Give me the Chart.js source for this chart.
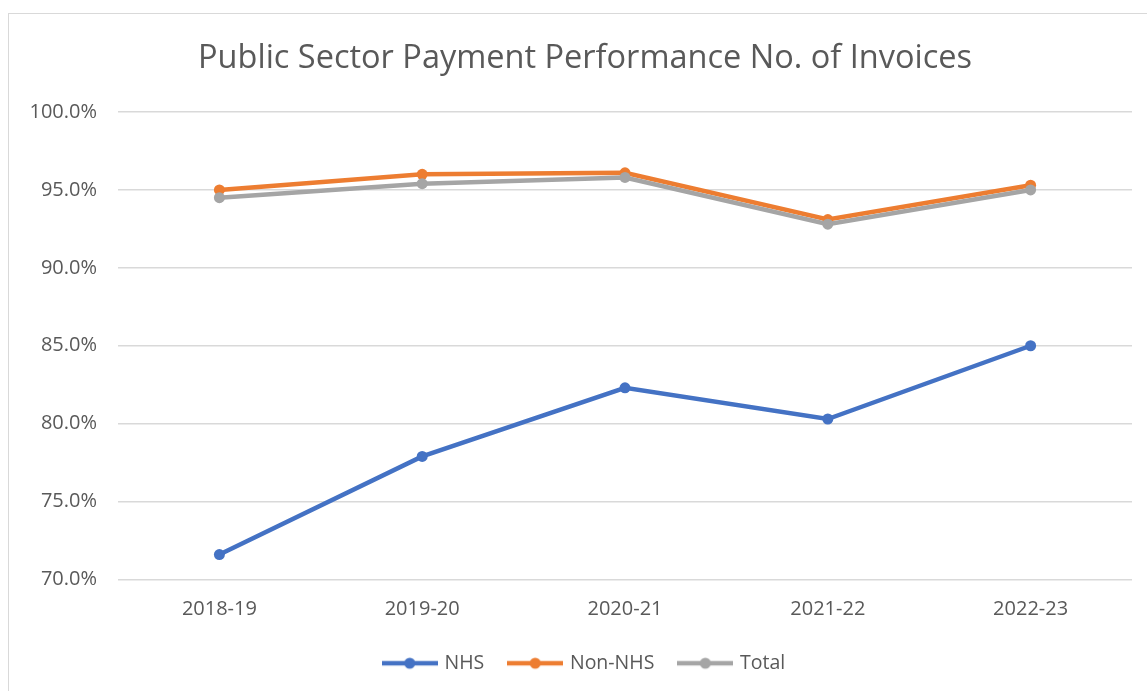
<!DOCTYPE html>
<html>
<head>
<meta charset="utf-8">
<script src="https://cdn.jsdelivr.net/npm/chart.js@4.4.1/dist/chart.umd.min.js"></script>
<style>
  body { margin: 0; background: #ffffff; }
  #wrap {
    position: absolute;
    left: 8px;
    top: 13px;
    width: 1152px;
    height: 677px;
    border: 1px solid #d9d9d9;
  }
</style>
</head>
<body>
<div id="wrap"><canvas id="chart"></canvas></div>
<script>
// Chart data
const years = ['2018-19', '2019-20', '2020-21', '2021-22', '2022-23'];
const nhsValues = [71.6, 77.9, 82.3, 80.3, 85.0];
const nonNhsValues = [95.0, 96.0, 96.1, 93.1, 95.3];
const totalValues = [94.5, 95.4, 95.8, 92.8, 95.0];

const seriesNames = ['NHS', 'Non-NHS', 'Total'];
const seriesColors = ['#4472c4', '#ed7d31', '#a5a5a5'];

const textColor = '#595959';
const fontFamily = '"Open Sans", sans-serif';

// Legend symbol: short line with a dot in the middle
function legendSymbol(color) {
    const c = document.createElement('canvas');
    c.width = 56;
    c.height = 14;
    const ctx = c.getContext('2d');
    ctx.strokeStyle = color;
    ctx.lineWidth = 4.5;
    ctx.beginPath();
    ctx.moveTo(0, 7);
    ctx.lineTo(56, 7);
    ctx.stroke();
    ctx.fillStyle = color;
    ctx.beginPath();
    ctx.arc(28, 7, 5.5, 0, Math.PI * 2);
    ctx.fill();
    return c;
}

function makeDataset(i, values, order) {
    return {
        label: seriesNames[i],
        data: values,
        borderColor: seriesColors[i],
        backgroundColor: seriesColors[i],
        borderWidth: 4.5,
        pointStyle: 'circle',
        pointRadius: 5.5,
        pointHoverRadius: 5.5,
        pointBorderWidth: 0,
        tension: 0,
        order: order
    };
}

const ctx = document.getElementById('chart').getContext('2d');

new Chart(ctx, {
    type: 'line',
    data: {
        labels: years,
        datasets: [
            makeDataset(0, nhsValues, 2),
            makeDataset(1, nonNhsValues, 1),
            makeDataset(2, totalValues, 0)
        ]
    },
    options: {
        responsive: true,
        maintainAspectRatio: false,
        animation: false,
        layout: {
            padding: { left: 0, right: 0, top: 0, bottom: 8 }
        },
        plugins: {
            title: {
                display: true,
                text: 'Public Sector Payment Performance No. of Invoices',
                color: textColor,
                font: { family: fontFamily, size: 32.5, weight: 'normal' },
                padding: { top: 25, bottom: 34 }
            },
            legend: {
                position: 'bottom',
                labels: {
                    color: textColor,
                    font: { family: fontFamily, size: 19.5 },
                    usePointStyle: true,
                    pointStyleWidth: 50,
                    padding: 26,
                    generateLabels: function(chart) {
                        return chart.data.datasets.map((ds, i) => ({
                            text: ds.label,
                            fontColor: textColor,
                            pointStyle: legendSymbol(seriesColors[i]),
                            datasetIndex: i,
                            lineWidth: 0,
                            hidden: false
                        }));
                    }
                }
            },
            tooltip: { enabled: false }
        },
        scales: {
            x: {
                offset: true,
                grid: { display: false, drawTicks: false },
                border: { display: false },
                ticks: {
                    color: textColor,
                    font: { family: fontFamily, size: 20 },
                    padding: 18
                },
                afterFit: function(scale) {
                    scale.height = 48;
                }
            },
            y: {
                min: 70,
                max: 100,
                grid: { color: '#d9d9d9', lineWidth: 1.5, drawTicks: false },
                border: { display: false },
                ticks: {
                    stepSize: 5,
                    color: textColor,
                    font: { family: fontFamily, size: 20 },
                    padding: 21,
                    callback: function(value) {
                        return value.toFixed(1) + '%';
                    }
                },
                afterFit: function(scale) {
                    scale.width = 109;
                }
            },
            // empty right-hand gutter so the title and legend stay centred on the whole box
            gutter: {
                position: 'right',
                display: true,
                grid: { display: false },
                border: { display: false },
                ticks: { display: false },
                afterFit: function(scale) {
                    scale.width = 29;
                }
            }
        }
    }
});
</script>
</body>
</html>
